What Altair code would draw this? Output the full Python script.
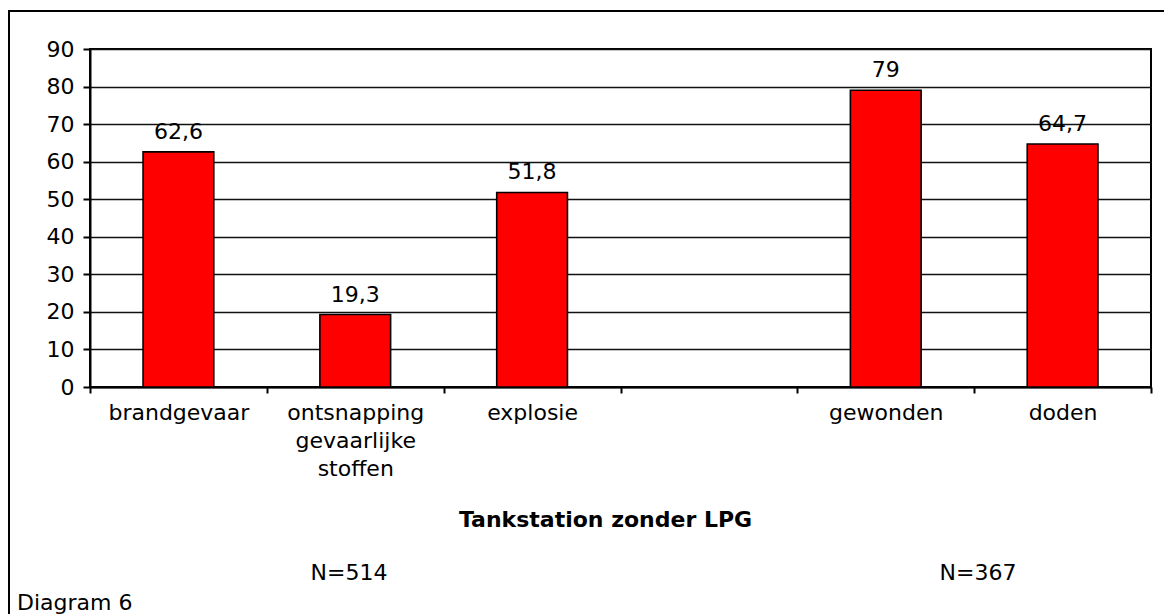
import altair as alt
import pandas as pd

# ---- data ----
categories = ["brandgevaar", "ontsnapping|gevaarlijke|stoffen", "explosie", " ", "gewonden", "doden"]
bar_categories = ["brandgevaar", "ontsnapping|gevaarlijke|stoffen", "explosie", "gewonden", "doden"]
values = [62.6, 19.3, 51.8, 79.0, 64.7]
value_labels = ["62,6", "19,3", "51,8", "79", "64,7"]
y_ticks = [0, 10, 20, 30, 40, 50, 60, 70, 80, 90]
x_title = "Tankstation zonder LPG"
n_left = "N=514"
n_right = "N=367"
footer = "Diagram 6"

FONT = "DejaVu Sans"
FS = 22
W, H = 1061, 338

df = pd.DataFrame({"cat": bar_categories, "value": values, "label": value_labels})

x_axis = alt.Axis(
    title=x_title,
    labelExpr="split(datum.label, '|')",
    labelAngle=0,
    labelOverlap=False,
    labelLimit=400,
    tickBand="extent",
    labelFont=FONT, labelFontSize=FS, labelColor="black",
    labelPadding=9, labelLineHeight=28,
    tickSize=6, tickColor="black", tickWidth=2,
    domainColor="black", domainWidth=2,
    titleFont=FONT, titleFontSize=FS, titleFontWeight="bold", titleColor="black",
    titleX=515, titleY=139, titleAlign="center", titleBaseline="alphabetic",
    grid=False,
)
y_axis = alt.Axis(
    values=y_ticks, title=None, grid=True, gridColor="#111111", gridWidth=1.6,
    labelOverlap=False,
    labelFont=FONT, labelFontSize=FS, labelColor="black", labelPadding=9,
    tickSize=7, tickColor="black", tickWidth=2,
    domainColor="black", domainWidth=2,
)
x = alt.X("cat:N", sort=categories,
          scale=alt.Scale(domain=categories, paddingInner=0, paddingOuter=0), axis=x_axis)
y = alt.Y("value:Q", scale=alt.Scale(domain=[0, 90], nice=False, zero=True), axis=y_axis)

base = alt.Chart(df)
bars = base.mark_bar(
    width=alt.RelativeBandSize(0.4), fill="#FF0000", stroke="black", strokeWidth=1.6
).encode(x=x, y=y)
texts = base.mark_text(
    baseline="alphabetic", dy=-13, font=FONT, fontSize=FS, color="black"
).encode(x=x, y=y, text="label:N")

one = alt.Data(values=[{}])
n1 = alt.Chart(one).mark_text(font=FONT, fontSize=FS, color="black", baseline="alphabetic").encode(
    x=alt.value(259), y=alt.value(531), text=alt.value(n_left))
n2 = alt.Chart(one).mark_text(font=FONT, fontSize=FS, color="black", baseline="alphabetic").encode(
    x=alt.value(888), y=alt.value(531), text=alt.value(n_right))
foot = alt.Chart(one).mark_text(font=FONT, fontSize=FS, color="black", baseline="alphabetic", align="left").encode(
    x=alt.value(-73), y=alt.value(561), text=alt.value(footer))

box_top = alt.Chart(one).mark_rule(color="black", strokeWidth=2).encode(
    x=alt.value(-81), x2=alt.value(1100), y=alt.value(-38))
box_left = alt.Chart(one).mark_rule(color="black", strokeWidth=2).encode(
    x=alt.value(-81), y=alt.value(-39), y2=alt.value(600))

chart = alt.layer(box_top, box_left, bars, texts, n1, n2, foot).properties(
    width=W, height=H,
    autosize=alt.AutoSizeParams(type="none"),
    padding={"left": 82, "top": 41, "right": 13, "bottom": 227},
    background="white",
).configure_view(stroke="black", strokeWidth=2)

chart.save("out.html", embed_options={"renderer": "svg", "actions": False})
